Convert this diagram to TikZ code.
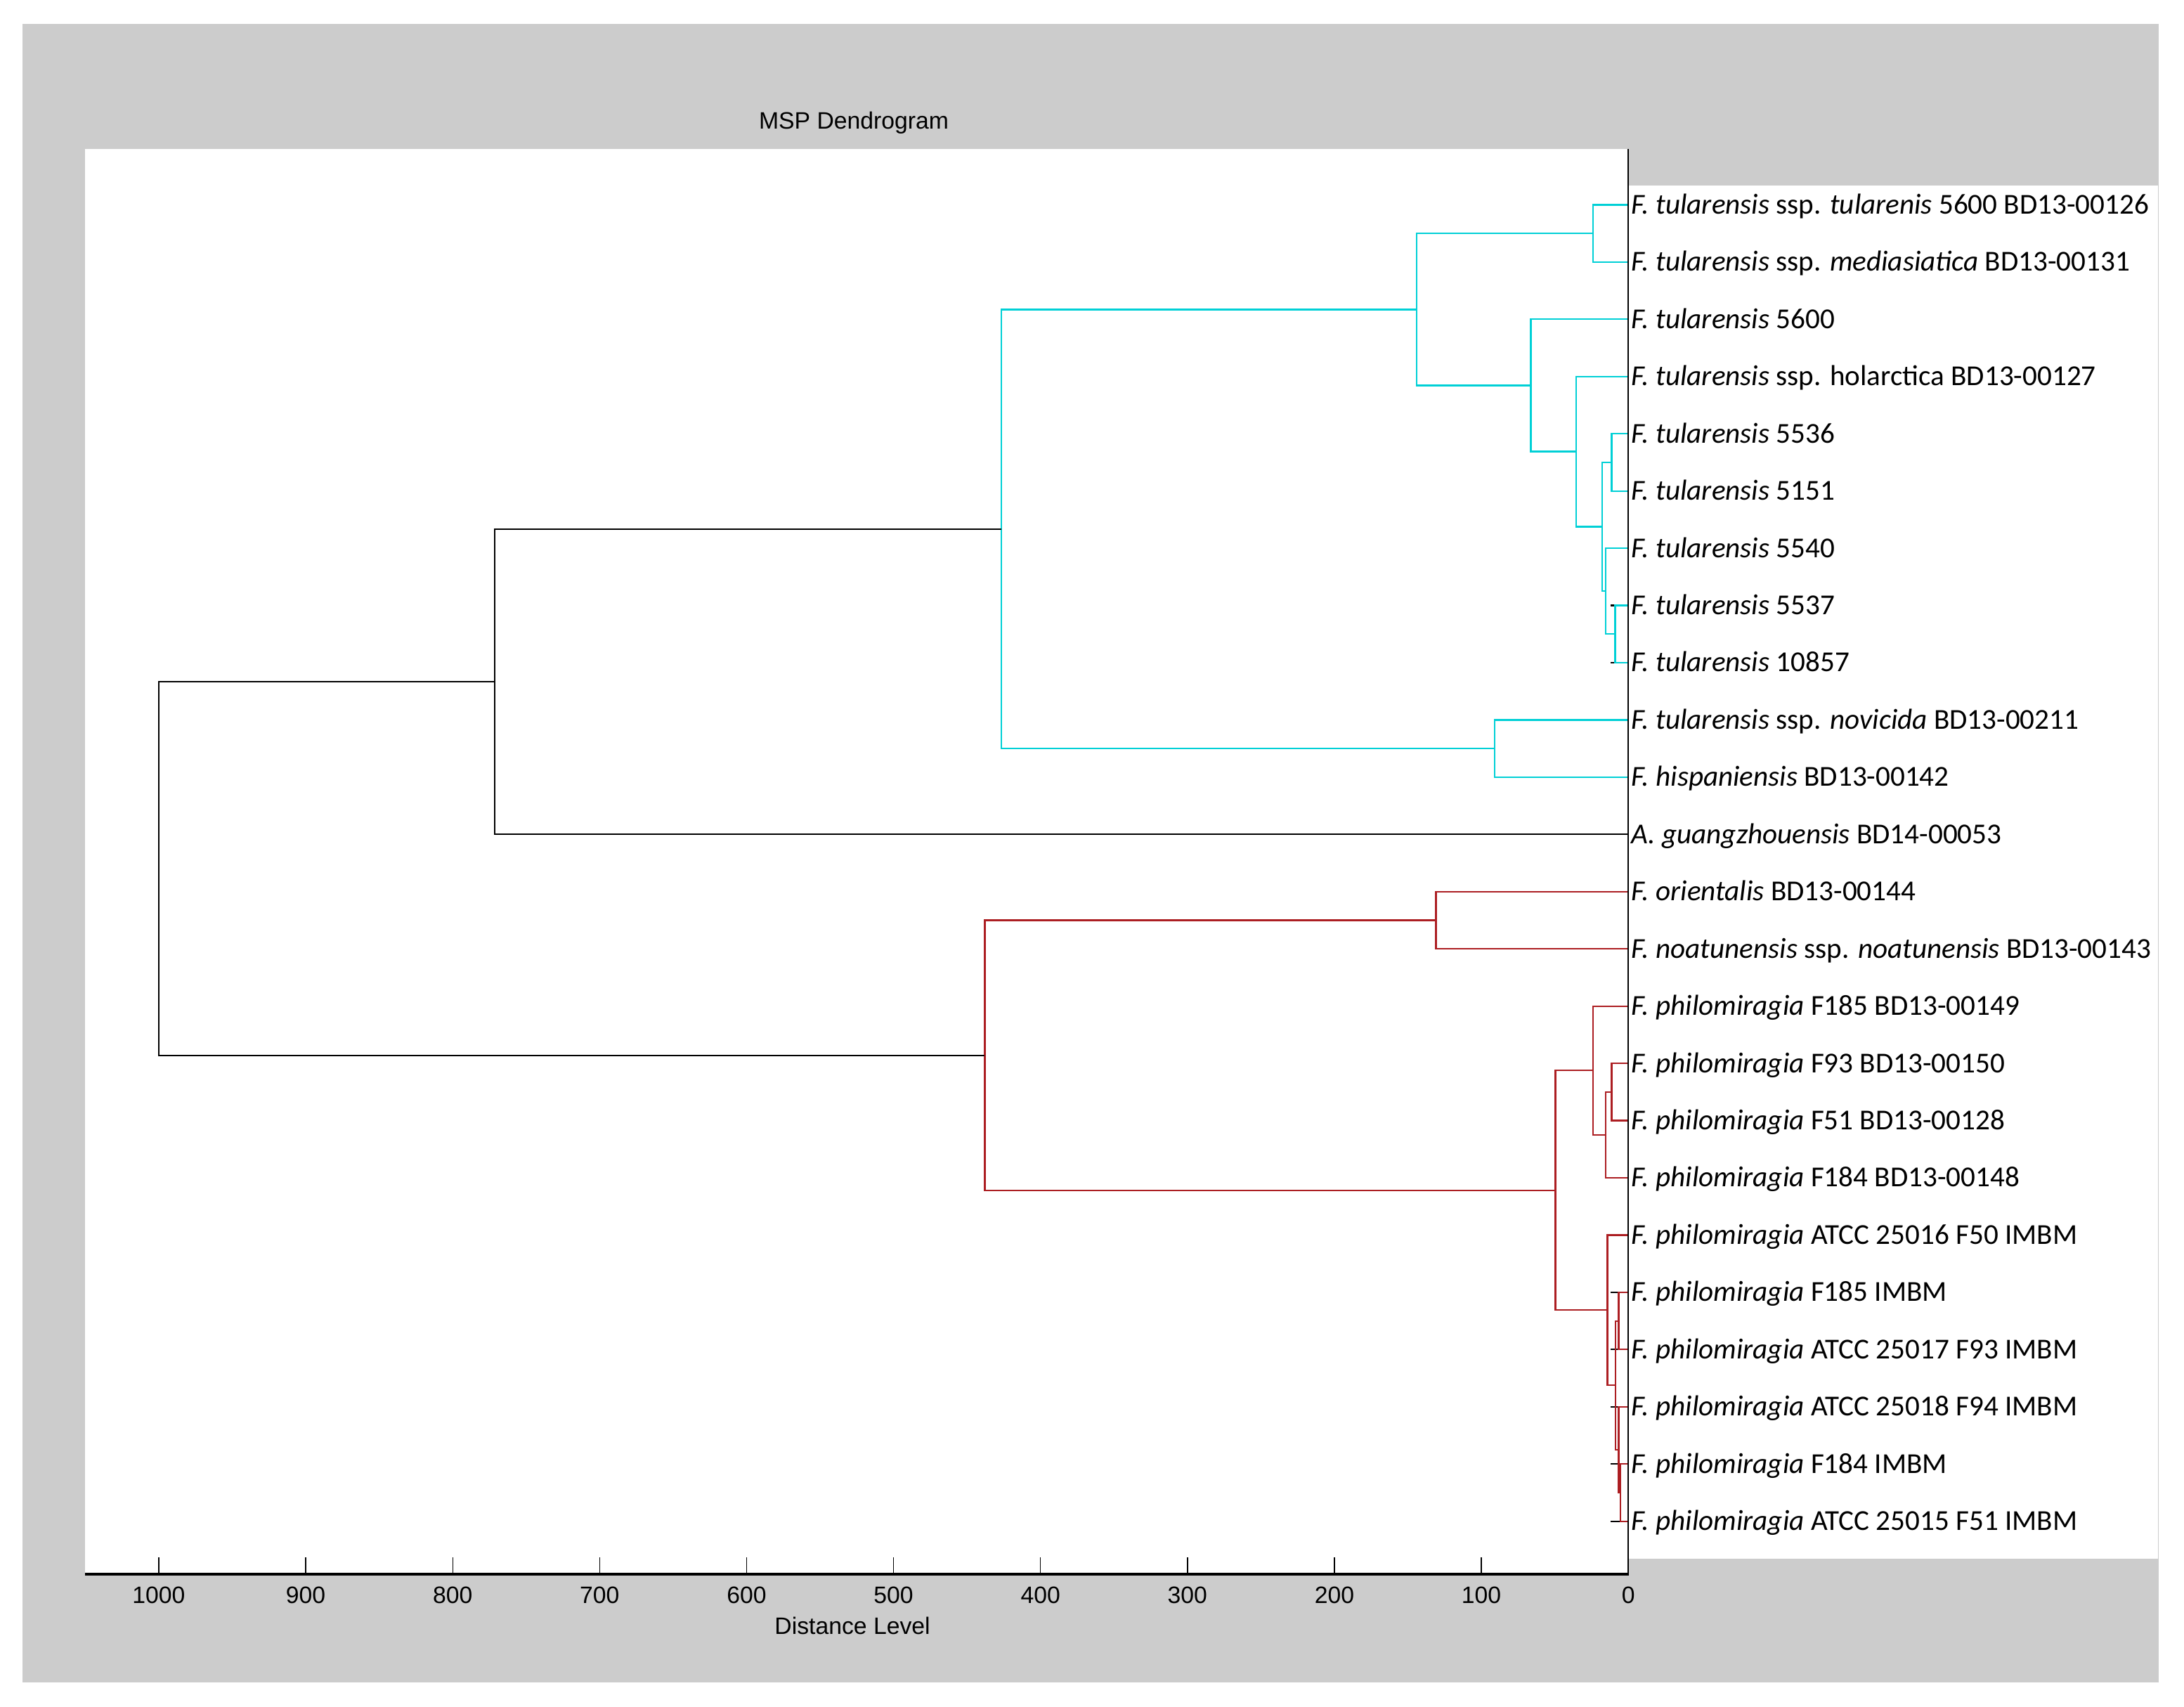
\documentclass[tikz,border=0pt]{standalone}
\usepackage{fontspec}
\setmainfont{Carlito}
\newfontfamily\axisfont{Liberation Sans}
\definecolor{dcyan}{RGB}{0,208,214}
\definecolor{dred}{RGB}{172,30,34}
\definecolor{panel}{RGB}{204,204,204}

\begin{document}
\begin{tikzpicture}[x=0.019821cm,y=-0.019821cm,
  lab/.style={anchor=west,inner xsep=1.1pt,inner ysep=0pt,text height=9pt,text depth=1.6pt,font=\fontsize{11.7}{13}\selectfont},
  cyl/.style={draw=dcyan,line width=0.65pt},
  rdl/.style={draw=dred,line width=0.65pt},
  bkl/.style={draw=black,line width=0.6pt},
  stub/.style={draw=black,line width=0.6pt},
  axlab/.style={font=\axisfont\fontsize{9.6}{11}\selectfont,inner sep=0pt}]
  \useasboundingbox (0,0) rectangle (1568,1225);

  % panel and plot areas
  \fill[white] (0,0) rectangle (1568,1225);
  \fill[panel] (16,17) rectangle (1550,1208);
  \fill[white] (61,107) rectangle (1169,1130);
  \fill[white] (1169,133) rectangle (1549.5,1119);

  \node[axlab] (title) at (613,88) {MSP Dendrogram};

  % leaves
  \node[lab] (n1)  at (1169,147.0)  {\textit{F. tularensis} ssp. \textit{tularenis} 5600 BD13-00126};
  \node[lab] (n2)  at (1169,188.1)  {\textit{F. tularensis} ssp. \textit{mediasiatica} BD13-00131};
  \node[lab] (n3)  at (1169,229.2)  {\textit{F. tularensis} 5600};
  \node[lab] (n4)  at (1169,270.3)  {\textit{F. tularensis} ssp. holarctica BD13-00127};
  \node[lab] (n5)  at (1169,311.4)  {\textit{F. tularensis} 5536};
  \node[lab] (n6)  at (1169,352.5)  {\textit{F. tularensis} 5151};
  \node[lab] (n7)  at (1169,393.5)  {\textit{F. tularensis} 5540};
  \node[lab] (n8)  at (1169,434.6)  {\textit{F. tularensis} 5537};
  \node[lab] (n9)  at (1169,475.7)  {\textit{F. tularensis} 10857};
  \node[lab] (n10) at (1169,516.8)  {\textit{F. tularensis} ssp. \textit{novicida} BD13-00211};
  \node[lab] (n11) at (1169,557.9)  {\textit{F. hispaniensis} BD13-00142};
  \node[lab] (n12) at (1169,599.0)  {\textit{A. guangzhouensis} BD14-00053};
  \node[lab] (n13) at (1169,640.1)  {\textit{F. orientalis} BD13-00144};
  \node[lab] (n14) at (1169,681.2)  {\textit{F. noatunensis} ssp. \textit{noatunensis} BD13-00143};
  \node[lab] (n15) at (1169,722.3)  {\textit{F. philomiragia} F185 BD13-00149};
  \node[lab] (n16) at (1169,763.4)  {\textit{F. philomiragia} F93 BD13-00150};
  \node[lab] (n17) at (1169,804.4)  {\textit{F. philomiragia} F51 BD13-00128};
  \node[lab] (n18) at (1169,845.5)  {\textit{F. philomiragia} F184 BD13-00148};
  \node[lab] (n19) at (1169,886.6)  {\textit{F. philomiragia} ATCC 25016 F50 IMBM};
  \node[lab] (n20) at (1169,927.7)  {\textit{F. philomiragia} F185 IMBM};
  \node[lab] (n21) at (1169,968.8)  {\textit{F. philomiragia} ATCC 25017 F93 IMBM};
  \node[lab] (n22) at (1169,1009.9) {\textit{F. philomiragia} ATCC 25018 F94 IMBM};
  \node[lab] (n23) at (1169,1051.0) {\textit{F. philomiragia} F184 IMBM};
  \node[lab] (n24) at (1169,1092.1) {\textit{F. philomiragia} ATCC 25015 F51 IMBM};

  % joins
  \coordinate (cy1)  at (1143.6,167.6);
  \coordinate (cy2)  at (1157.1,331.9);
  \coordinate (cy3)  at (1159.6,455.2);
  \coordinate (cy4)  at (1152.8,424.3);
  \coordinate (cy5)  at (1150.4,378.1);
  \coordinate (cy6)  at (1131.5,324.2);
  \coordinate (cy7)  at (1099,276.7);
  \coordinate (cy8)  at (1017,222.2);
  \coordinate (cy9)  at (1073,537.4);
  \coordinate (cy10) at (719,379.8);
  \coordinate (bk1)  at (355,489.4);
  \coordinate (rd1)  at (1031,660.7);
  \coordinate (rd2)  at (1157.1,783.9);
  \coordinate (rd3)  at (1152.8,814.7);
  \coordinate (rd4)  at (1143.6,768.5);
  \coordinate (rd5)  at (1162.1,948.3);
  \coordinate (rd6)  at (1163.3,1071.5);
  \coordinate (rd7)  at (1162.1,1040.7);
  \coordinate (rd8)  at (1160,994.5);
  \coordinate (rd9)  at (1154,940.5);
  \coordinate (rd10) at (1116.7,854.5);
  \coordinate (rd11) at (707,757.6);
  \coordinate (bk2)  at (114,623.5);

  % small black marks
  \draw[stub] (n8.west)  ++(-12.5,0) -- ++(2.4,0);
  \draw[stub] (n9.west)  ++(-12.5,0) -- ++(2.4,0);
  \draw[stub] (n20.west) ++(-12.8,0) -- ++(5.9,0);
  \draw[stub] (n21.west) ++(-12.8,0) -- ++(5.9,0);
  \draw[stub] (n22.west) ++(-12.8,0) -- ++(5.9,0);
  \draw[stub] (n23.west) ++(-12.8,0) -- ++(5.9,0);
  \draw[stub] (n24.west) ++(-12.8,0) -- ++(7.1,0);

  % cyan cluster
  \draw[cyl] (n1.west) -| (cy1) |- (n2.west);
  \draw[cyl] (n5.west) -| (cy2) |- (n6.west);
  \draw[cyl] (n8.west) -| (cy3) |- (n9.west);
  \draw[cyl] (n7.west) -| (cy4) |- (cy3);
  \draw[cyl] (cy2) -| (cy5) |- (cy4);
  \draw[cyl] (n4.west) -| (cy6) |- (cy5);
  \draw[cyl] (n3.west) -| (cy7) |- (cy6);
  \draw[cyl] (cy1) -| (cy8) |- (cy7);
  \draw[cyl] (n10.west) -| (cy9) |- (n11.west);
  \draw[cyl] (cy8) -| (cy10) |- (cy9);
  \draw[bkl] (cy10) -| (bk1) |- (n12.west);

  % red cluster
  \draw[rdl] (n13.west) -| (rd1) |- (n14.west);
  \draw[rdl] (n16.west) -| (rd2) |- (n17.west);
  \draw[rdl] (rd2) -| (rd3) |- (n18.west);
  \draw[rdl] (n15.west) -| (rd4) |- (rd3);
  \draw[rdl] (n20.west) -| (rd5) |- (n21.west);
  \draw[rdl] (n23.west) -| (rd6) |- (n24.west);
  \draw[rdl] (n22.west) -| (rd7) |- (rd6);
  \draw[rdl] (rd5) -| (rd8) |- (rd7);
  \draw[rdl] (n19.west) -| (rd9) |- (rd8);
  \draw[rdl] (rd4) -| (rd10) |- (rd9);
  \draw[rdl] (rd1) -| (rd11) |- (rd10);
  \draw[bkl] (bk1) -| (bk2) |- (rd11);

  % axis
  \draw[line width=0.6pt] (1169,107) -- (1169,1130);
  \draw[line width=1.1pt] (61,1130) -- (1169.3,1130);
  \foreach \d in {0,100,...,1000} {
    \draw[line width=0.4pt] ({1169-1.055*\d},1118) -- ({1169-1.055*\d},1130);
    \node[axlab] (tk\d) at ({1169-1.055*\d},1145) {\d};
  }
  \node[axlab] (xlabel) at (612,1167) {Distance Level};
\end{tikzpicture}
\end{document}
